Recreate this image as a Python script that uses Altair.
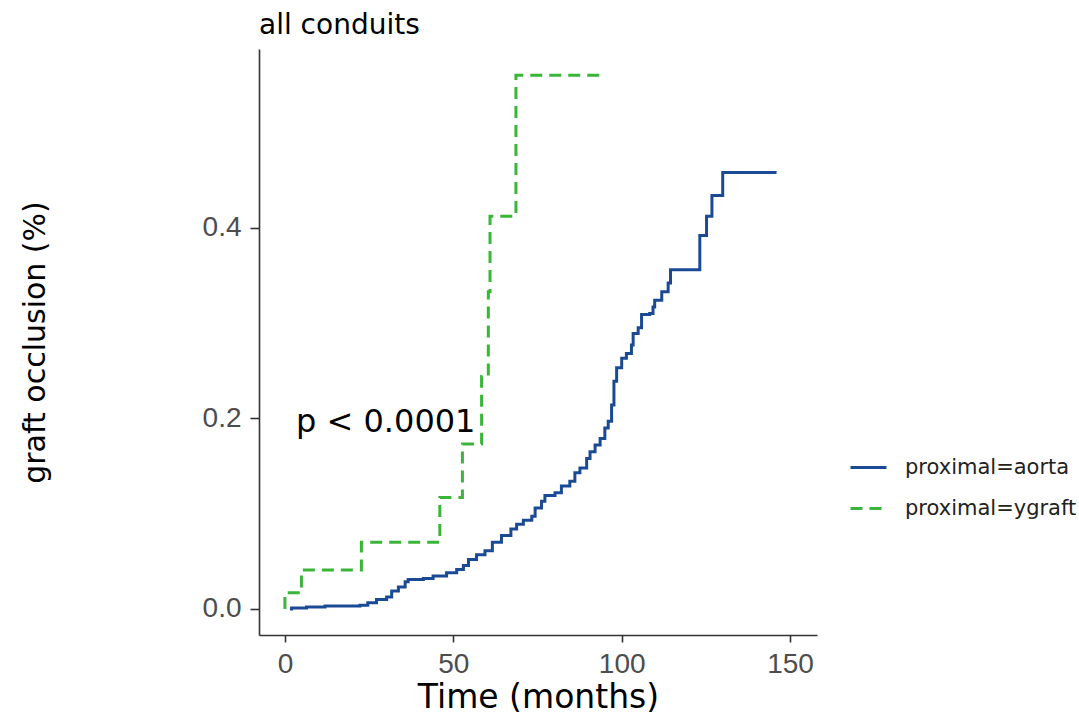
import altair as alt
import pandas as pd

# ---- data ----
aorta_time = [1.5, 2.0, 6.4, 11.9, 22.3, 24.6, 27.2, 30.2, 31.7, 33.7,
              35.7, 36.6, 41.1, 44.0, 48.0, 51.0, 53.0, 54.5, 56.9, 59.4,
              61.6, 64.3, 67.1, 68.8, 70.8, 73.3, 74.3, 76.2, 77.2, 80.2,
              82.1, 84.6, 86.1, 87.6, 89.6, 90.6, 92.1, 93.6, 95.0, 96.0,
              97.0, 97.7, 98.5, 100.0, 101.4, 102.9, 103.4, 104.9, 105.9, 108.3,
              109.3, 109.8, 111.9, 113.8, 114.5, 123.2, 125.2, 126.8, 130.0, 146.0]
aorta_occl = [0.0, 0.001, 0.002, 0.003, 0.004, 0.0066, 0.010, 0.0126, 0.019, 0.023,
              0.0286, 0.031, 0.032, 0.0345, 0.038, 0.0415, 0.0457, 0.052, 0.057, 0.061,
              0.070, 0.077, 0.084, 0.089, 0.093, 0.0974, 0.106, 0.113, 0.119, 0.122,
              0.129, 0.134, 0.143, 0.148, 0.158, 0.165, 0.172, 0.179, 0.190, 0.197,
              0.214, 0.239, 0.253, 0.263, 0.268, 0.277, 0.289, 0.295, 0.309, 0.310,
              0.317, 0.324, 0.333, 0.342, 0.356, 0.392, 0.412, 0.434, 0.458, 0.458]
ygraft_time = [0.0, 0.0, 4.9, 22.7, 46.0, 52.7, 58.4, 60.4, 60.9, 68.6, 94.5]
ygraft_occl = [0.0, 0.017, 0.041, 0.070, 0.117, 0.173, 0.244, 0.333, 0.412, 0.560, 0.560]

groups = ["proximal=aorta", "proximal=ygraft"]
colors = ["#1B4A94", "#3AB53A"]
dashes = [[1, 0], [12, 7]]
x_ticks = [0, 50, 100, 150]
y_ticks = [0.0, 0.2, 0.4]
x_domain = [-7.7, 158.0]
y_domain = [-0.0273, 0.5876]
pval_text = "p < 0.0001"
pval_x = 3.3
pval_y = 0.186

rows = []
for i, (t, v) in enumerate(zip(aorta_time, aorta_occl)):
    rows.append({"time": t, "occl": v, "group": groups[0], "idx": i})
for i, (t, v) in enumerate(zip(ygraft_time, ygraft_occl)):
    rows.append({"time": t, "occl": v, "group": groups[1], "idx": i})
df = pd.DataFrame(rows)

x_scale = alt.Scale(domain=x_domain, nice=False, zero=False)
y_scale = alt.Scale(domain=y_domain, nice=False, zero=False)

legend_spec = dict(
    title=None, orient="none", legendX=590, legendY=399,
    symbolType="stroke", symbolSize=1296, symbolStrokeWidth=3,
    labelFont="DejaVu Sans", labelFontSize=21, labelColor="#222222",
    labelOffset=17, rowPadding=11, padding=0, labelLimit=400,
)

lines = alt.Chart(df).mark_line(interpolate="step-after", strokeWidth=3, clip=True).encode(
    x=alt.X("time:Q", scale=x_scale,
            axis=alt.Axis(values=x_ticks, title="Time (months)", tickSize=7,
                          labelPadding=8, titleFont="DejaVu Sans", titleFontSize=33,
                          titleBaseline="alphabetic", titleY=72)),
    y=alt.Y("occl:Q", scale=y_scale,
            axis=alt.Axis(values=y_ticks, format=".1f", title="graft occlusion (%)",
                          tickSize=9, labelPadding=9, titleFont="DejaVu Sans",
                          titleFontSize=30, titleBaseline="alphabetic", titleX=-215,
                          titleAngle=270)),
    color=alt.Color("group:N", scale=alt.Scale(domain=groups, range=colors),
                    legend=alt.Legend(**legend_spec)),
    strokeDash=alt.StrokeDash("group:N", scale=alt.Scale(domain=groups, range=dashes),
                              legend=alt.Legend(**legend_spec)),
    order=alt.Order("idx:Q"),
)

ptext = alt.Chart(pd.DataFrame({"x": [pval_x], "y": [pval_y], "label": [pval_text]})).mark_text(
    align="left", baseline="alphabetic", font="DejaVu Sans", fontSize=32, color="#000000"
).encode(
    x=alt.X("x:Q", scale=x_scale),
    y=alt.Y("y:Q", scale=y_scale),
    text="label:N",
)

chart = alt.layer(lines, ptext).properties(
    width=558, height=586,
    autosize=alt.AutoSizeParams(type="none"),
    padding={"left": 259, "top": 49, "right": 262, "bottom": 86},
    background="white",
    title=alt.TitleParams("all conduits", anchor="start", frame="group",
                          font="DejaVu Sans", fontSize=28, fontWeight="normal",
                          color="#000000", baseline="bottom", offset=10, dy=29),
).configure_view(stroke=None).configure_axis(
    grid=False, domainColor="#333333", domainWidth=1.6, tickColor="#333333",
    tickWidth=1.6, labelColor="#4D4D4D", labelFont="Liberation Sans",
    labelFontSize=28, titleColor="#000000", titleFontWeight="normal",
)

chart.save("out.html", embed_options={"renderer": "svg", "actions": False})
